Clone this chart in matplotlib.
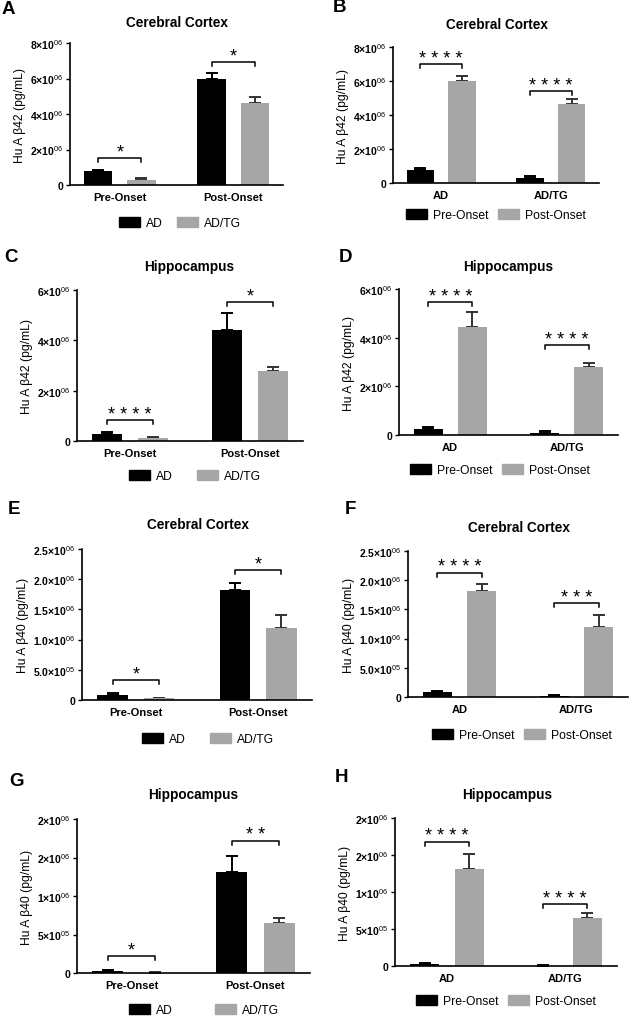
import numpy as np
import matplotlib
matplotlib.use('Agg')
import matplotlib.pyplot as plt
from matplotlib import rcParams
from matplotlib.patches import Patch

rcParams['font.family'] = ['Liberation Sans', 'DejaVu Sans']
rcParams['mathtext.fontset'] = 'custom'
rcParams['mathtext.rm'] = 'Liberation Sans'

W, H = 629, 1020

# values in 1e6 pg/mL, order [AD, AD/TG]
ab42_ctx_pre = [0.78, 0.28]
ab42_ctx_pre_err = [0.09, 0.11]
ab42_ctx_post = [5.98, 4.63]
ab42_ctx_post_err = [0.33, 0.31]

ab42_hip_pre = [0.26, 0.10]
ab42_hip_pre_err = [0.08, 0.06]
ab42_hip_post = [4.43, 2.78]
ab42_hip_post_err = [0.64, 0.18]

ab40_ctx_pre = [0.085, 0.025]
ab40_ctx_pre_err = [0.025, 0.015]
ab40_ctx_post = [1.815, 1.20]
ab40_ctx_post_err = [0.125, 0.20]

ab40_hip_pre = [0.025, 0.006]
ab40_hip_pre_err = [0.012, 0.004]
ab40_hip_post = [1.31, 0.65]
ab40_hip_post_err = [0.21, 0.065]

onset_labels = ['Pre-Onset', 'Post-Onset']
geno_labels = ['AD', 'AD/TG']

# significance stars and bracket heights (per group)
stars = {
    'A': ['*', '*'], 'B': ['****', '****'],
    'C': ['****', '*'], 'D': ['****', '****'],
    'E': ['*', '*'], 'F': ['****', '***'],
    'G': ['*', '**'], 'H': ['****', '****'],
}
bracket_y = {
    'A': [1.52, 6.93], 'B': [6.98, 5.39],
    'C': [0.82, 5.52], 'D': [5.47, 3.69],
    'E': [0.33, 2.15], 'F': [2.13, 1.61],
    'G': [0.22, 1.72], 'H': [1.68, 0.84],
}

ticks_42_ctx = [0, 2, 4, 6, 8]
ticklabels_42_ctx = ['0', '2×10$^{06}$', '4×10$^{06}$', '6×10$^{06}$', '8×10$^{06}$']
ticks_42_hip = [0, 2, 4, 6]
ticklabels_42_hip = ['0', '2×10$^{06}$', '4×10$^{06}$', '6×10$^{06}$']
ticks_40_ctx = [0, 0.5, 1.0, 1.5, 2.0, 2.5]
ticklabels_40_ctx = ['0', '5.0×10$^{05}$', '1.0×10$^{06}$', '1.5×10$^{06}$', '2.0×10$^{06}$', '2.5×10$^{06}$']
ticks_40_hip = [0, 0.5, 1.0, 1.5, 2.0]
ticklabels_40_hip = ['0', '5×10$^{05}$', '1×10$^{06}$', '2×10$^{06}$', '2×10$^{06}$']

BLACK = '#000000'
GRAY = '#a6a6a6'

fig = plt.figure(figsize=(W / 100, H / 100), dpi=100)


def px_rect(l, t, r, b):
    return [l / W, 1 - b / H, (r - l) / W, (b - t) / H]


def draw_panel(letter, box, s1, e1, s2, e2, xlabels, leg_labels, ticks, ticklabels,
               ylabel, title, title_xy, letter_xy, leg_xy, colsp):
    l, t, r, b = box
    ax = fig.add_axes(px_rect(l, t, r, b))
    x = np.arange(2)
    off, wd = 0.19, 0.25
    ax.bar(x - off, s1, wd, color=BLACK, zorder=2)
    ax.bar(x + off, s2, wd, color=GRAY, zorder=2)
    ax.errorbar(x - off, s1, yerr=[np.zeros(2), e1], fmt='none', ecolor=BLACK,
                elinewidth=1.4, capsize=4, capthick=1.4, zorder=1)
    ax.errorbar(x + off, s2, yerr=[np.zeros(2), e2], fmt='none', ecolor='#333333',
                elinewidth=1.4, capsize=4, capthick=1.4, zorder=1)
    ymax = ticks[-1]
    ax.set_ylim(0, ymax)
    ax.set_xlim(-0.44, 1.44)
    drop = ymax * 4 / (b - t)
    for g in range(2):
        yb = bracket_y[letter][g]
        ax.plot([g - off, g - off, g + off, g + off], [yb - drop, yb, yb, yb - drop],
                color='black', lw=1.1, clip_on=False)
        ax.annotate(' '.join(stars[letter][g]), (g, yb), xytext=(0, -2),
                    textcoords='offset points', ha='center', va='bottom',
                    fontsize=13, annotation_clip=False)
    for s in ['top', 'right']:
        ax.spines[s].set_visible(False)
    ax.spines['left'].set_linewidth(1.2)
    ax.spines['bottom'].set_linewidth(1.2)
    ax.set_yticks(ticks)
    ax.set_yticklabels(ticklabels, fontsize=7.5, fontweight='bold')
    ax.set_xticks(x)
    ax.set_xticklabels(xlabels, fontsize=8, fontweight='bold')
    ax.tick_params(axis='x', length=0, pad=5)
    ax.tick_params(axis='y', length=3, width=1, pad=2)
    ax.set_ylabel(ylabel, fontsize=8.7, labelpad=3)
    fig.text(title_xy[0] / W, 1 - title_xy[1] / H, title, ha='center', va='center',
             fontsize=9.8, fontweight='bold')
    fig.text(letter_xy[0] / W, 1 - letter_xy[1] / H, letter, ha='center', va='center',
             fontsize=13.5, fontweight='bold')
    handles = [Patch(color=BLACK), Patch(color=GRAY)]
    fig.legend(handles, leg_labels, loc='center', ncol=2, frameon=False,
               bbox_to_anchor=(leg_xy[0] / W, 1 - leg_xy[1] / H),
               fontsize=8.7, handlelength=1.7, handleheight=0.9,
               handletextpad=0.5, columnspacing=colsp, borderpad=0)
    return ax


y42 = 'Hu A β42 (pg/mL)'
y40 = 'Hu A β40 (pg/mL)'

# A / B  Abeta42 cortex
draw_panel('A', (70, 44, 283, 186),
           [ab42_ctx_pre[0], ab42_ctx_post[0]], [ab42_ctx_pre_err[0], ab42_ctx_post_err[0]],
           [ab42_ctx_pre[1], ab42_ctx_post[1]], [ab42_ctx_pre_err[1], ab42_ctx_post_err[1]],
           onset_labels, geno_labels, ticks_42_ctx, ticklabels_42_ctx, y42,
           'Cerebral Cortex', (177, 23), (8, 9), (180, 224), 1.2)
draw_panel('B', (393, 48, 599, 184),
           ab42_ctx_pre, ab42_ctx_pre_err, ab42_ctx_post, ab42_ctx_post_err,
           geno_labels, onset_labels, ticks_42_ctx, ticklabels_42_ctx, y42,
           'Cerebral Cortex', (497, 25), (339, 7), (496, 216), 0.8)

# C / D  Abeta42 hippocampus
draw_panel('C', (77, 291, 303, 442),
           [ab42_hip_pre[0], ab42_hip_post[0]], [ab42_hip_pre_err[0], ab42_hip_post_err[0]],
           [ab42_hip_pre[1], ab42_hip_post[1]], [ab42_hip_pre_err[1], ab42_hip_post_err[1]],
           onset_labels, geno_labels, ticks_42_hip, ticklabels_42_hip, y42,
           'Hippocampus', (189, 267), (11, 258), (195, 477), 2.0)
draw_panel('D', (399, 290, 618, 436),
           ab42_hip_pre, ab42_hip_pre_err, ab42_hip_post, ab42_hip_post_err,
           geno_labels, onset_labels, ticks_42_hip, ticklabels_42_hip, y42,
           'Hippocampus', (508, 267), (345, 258), (500, 471), 0.8)

# E / F  Abeta40 cortex
draw_panel('E', (82, 550, 312, 701),
           [ab40_ctx_pre[0], ab40_ctx_post[0]], [ab40_ctx_pre_err[0], ab40_ctx_post_err[0]],
           [ab40_ctx_pre[1], ab40_ctx_post[1]], [ab40_ctx_pre_err[1], ab40_ctx_post_err[1]],
           onset_labels, geno_labels, ticks_40_ctx, ticklabels_40_ctx, y40,
           'Cerebral Cortex', (198, 525), (14, 510), (208, 740), 2.0)
draw_panel('F', (408, 552, 628, 698),
           ab40_ctx_pre, ab40_ctx_pre_err, ab40_ctx_post, ab40_ctx_post_err,
           geno_labels, onset_labels, ticks_40_ctx, ticklabels_40_ctx, y40,
           'Cerebral Cortex', (519, 528), (350, 510), (522, 736), 0.8)

# G / H  Abeta40 hippocampus
draw_panel('G', (77, 820, 310, 974),
           [ab40_hip_pre[0], ab40_hip_post[0]], [ab40_hip_pre_err[0], ab40_hip_post_err[0]],
           [ab40_hip_pre[1], ab40_hip_post[1]], [ab40_hip_pre_err[1], ab40_hip_post_err[1]],
           onset_labels, geno_labels, ticks_40_hip, ticklabels_40_hip, y40,
           'Hippocampus', (193, 795), (17, 781), (204, 1011), 3.5)
draw_panel('H', (395, 819, 617, 967),
           ab40_hip_pre, ab40_hip_pre_err, ab40_hip_post, ab40_hip_post_err,
           geno_labels, onset_labels, ticks_40_hip, ticklabels_40_hip, y40,
           'Hippocampus', (507, 795), (341, 778), (506, 1002), 0.8)

plt.savefig('out.png', dpi=100)
